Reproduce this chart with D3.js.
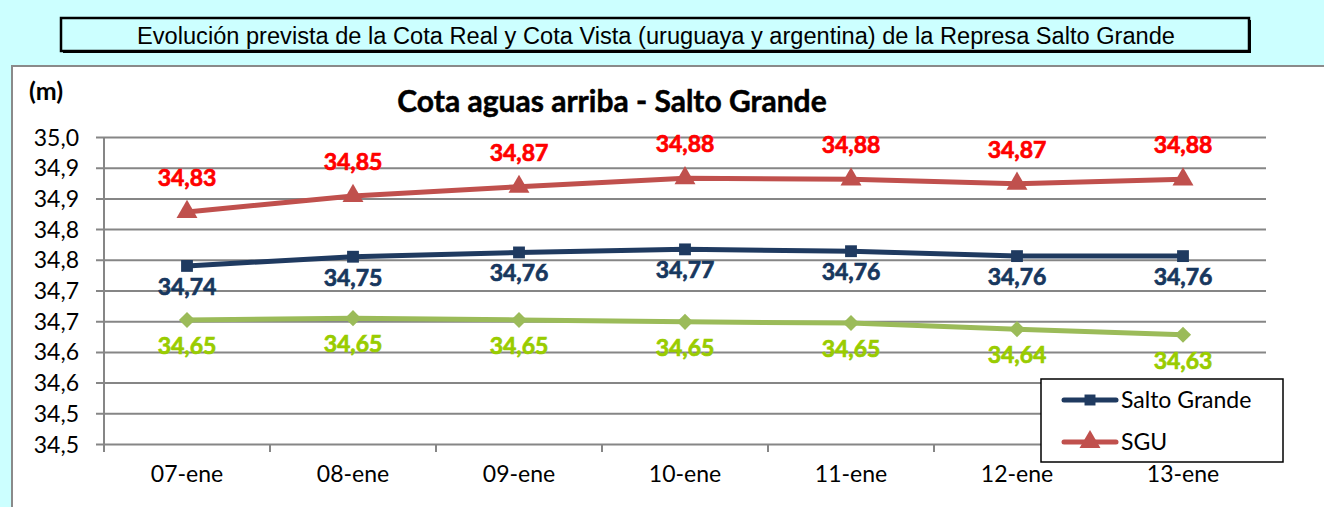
<!DOCTYPE html>
<html><head><meta charset="utf-8">
<script src="https://cdn.jsdelivr.net/npm/d3@7"></script>
<style>html,body{margin:0;padding:0;background:#CCFFFF;overflow:hidden}svg{display:block}</style>
</head><body>
<svg id="c" width="1324" height="507"></svg>
<script>
const pageTitle = "Evolución prevista de la Cota Real y Cota Vista (uruguaya y argentina) de la Represa Salto Grande";
const chartTitle = "Cota aguas arriba - Salto Grande";
const unitLabel = "(m)";
const categories = ["07-ene","08-ene","09-ene","10-ene","11-ene","12-ene","13-ene"];
const saltoGrande = [34.740, 34.755, 34.762, 34.767, 34.764, 34.756, 34.756];
const sgu = [34.828, 34.854, 34.869, 34.883, 34.881, 34.874, 34.881];
const verde = [34.652, 34.655, 34.652, 34.649, 34.647, 34.637, 34.628];
const saltoLabels = ["34,74","34,75","34,76","34,77","34,76","34,76","34,76"];
const sguLabels = ["34,83","34,85","34,87","34,88","34,88","34,87","34,88"];
const verdeLabels = ["34,65","34,65","34,65","34,65","34,65","34,64","34,63"];
const tickValues = [34.45,34.50,34.55,34.60,34.65,34.70,34.75,34.80,34.85,34.90,34.95];
const tickLabels = ["34,5","34,5","34,6","34,6","34,7","34,7","34,8","34,8","34,9","34,9","35,0"];
const legendNames = ["Salto Grande","SGU"];

const svg = d3.select("#c");
const F = "Lato, 'Open Sans', sans-serif";

// page title box
svg.append("rect").attr("x",63).attr("y",20).attr("width",1188).attr("height",33).attr("fill","#000");
svg.append("rect").attr("x",61).attr("y",18).attr("width",1188).attr("height",33).attr("fill","#CCFFFF").attr("stroke","#000").attr("stroke-width",2.5);
svg.append("text").attr("x",656).attr("y",44).attr("text-anchor","middle")
  .style("font-family","'Liberation Sans', Arial, sans-serif").style("font-size","23px").attr("fill","#000")
  .attr("textLength",1038).attr("lengthAdjust","spacingAndGlyphs").text(pageTitle);

// chart panel
svg.append("rect").attr("x",12).attr("y",66).attr("width",1330).attr("height",460)
  .attr("fill","#fff").attr("stroke","#8a8a8a").attr("stroke-width",2);

const y = d3.scaleLinear().domain([34.45,34.95]).range([444,137]);
const x = d3.scaleBand().domain(categories).range([104,1266]).padding(0);
const cx = c => x(c) + x.bandwidth()/2;

// gridlines
const ax = d3.axisLeft(y).tickValues(tickValues).tickSize(-(1266-96)).tickFormat((d,i)=>tickLabels[i]).tickPadding(0);
const gY = svg.append("g").attr("transform","translate(96,0)").call(ax);
gY.select(".domain").remove();
gY.selectAll(".tick line").attr("stroke","#868686").attr("stroke-width",2);
gY.selectAll(".tick text").attr("x",-17).attr("dy","0.35em").attr("fill","#000")
  .style("font-family",F).style("font-size","23px");

// vertical axis line
svg.append("line").attr("x1",104).attr("x2",104).attr("y1",137).attr("y2",452).attr("stroke","#868686").attr("stroke-width",2);

// x axis
const bx = d3.axisBottom(x).tickSize(0).tickPadding(22);
const gX = svg.append("g").attr("transform","translate(0,444)").call(bx);
gX.select(".domain").remove();
gX.selectAll(".tick text").attr("fill","#000").style("font-family",F).style("font-size","23px").attr("dy","0.71em");
svg.selectAll(".xb").data(categories.slice(1)).enter().append("line")
  .attr("x1",d=>x(d)).attr("x2",d=>x(d)).attr("y1",444).attr("y2",452).attr("stroke","#868686").attr("stroke-width",2);

// titles
svg.append("text").attr("x",29).attr("y",100).style("font-family",F).style("font-weight","bold").style("font-size","25px").text(unitLabel);
svg.append("text").attr("x",612).attr("y",112).attr("text-anchor","middle").style("font-family",F).style("font-weight","bold").style("font-size","30px")
  .attr("stroke","#000").attr("stroke-width",0.5).text(chartTitle);

const line = d3.line().x((d,i)=>cx(categories[i])).y(d=>y(d));

function series(vals, color, symbol, size, rot){
  svg.append("path").datum(vals).attr("d",line).attr("fill","none").attr("stroke",color).attr("stroke-width",5).attr("stroke-linejoin","round");
  svg.selectAll(null).data(vals).enter().append("path")
    .attr("d",d3.symbol().type(symbol).size(size))
    .attr("transform",(d,i)=>`translate(${cx(categories[i])},${y(d)}) rotate(${rot})`)
    .attr("fill",color);
}
series(verde,"#9BBB59",d3.symbolSquare,130,45);
series(saltoGrande,"#1F3A60",d3.symbolSquare,140,0);
series(sgu,"#C0504D",d3.symbolTriangle,190,0);

function labels(vals, txt, color, dy){
  svg.selectAll(null).data(vals).enter().append("text")
    .attr("x",(d,i)=>cx(categories[i])).attr("y",d=>y(d)+dy).attr("dy","0.35em")
    .attr("text-anchor","middle").style("font-family",F).style("font-weight","bold").style("font-size","23px")
    .attr("fill",color).attr("stroke",color).attr("stroke-width",0.7).text((d,i)=>txt[i]);
}
labels(sgu,sguLabels,"#FF0000",-34);
labels(saltoGrande,saltoLabels,"#17375E",21);
labels(verde,verdeLabels,"#99CC00",26);

// legend
const lg = svg.append("g");
lg.append("rect").attr("x",1041).attr("y",379).attr("width",242).attr("height",83).attr("fill","#fff").attr("stroke","#000").attr("stroke-width",1.5);
const legColors = ["#1F3A60","#C0504D"];
const legSyms = [d3.symbolSquare, d3.symbolTriangle];
legendNames.forEach((n,i)=>{
  const yy = 400 + i*42;
  lg.append("line").attr("x1",1064).attr("x2",1116).attr("y1",yy).attr("y2",yy).attr("stroke",legColors[i]).attr("stroke-width",5).attr("stroke-linecap","round");
  lg.append("path").attr("d",d3.symbol().type(legSyms[i]).size(i?190:120)).attr("transform",`translate(1090,${yy})`).attr("fill",legColors[i]);
  lg.append("text").attr("x",1121).attr("y",yy).attr("dy","0.35em").style("font-family",F).style("font-size","23px").attr("fill","#000").text(n);
});
</script>
</body></html>
